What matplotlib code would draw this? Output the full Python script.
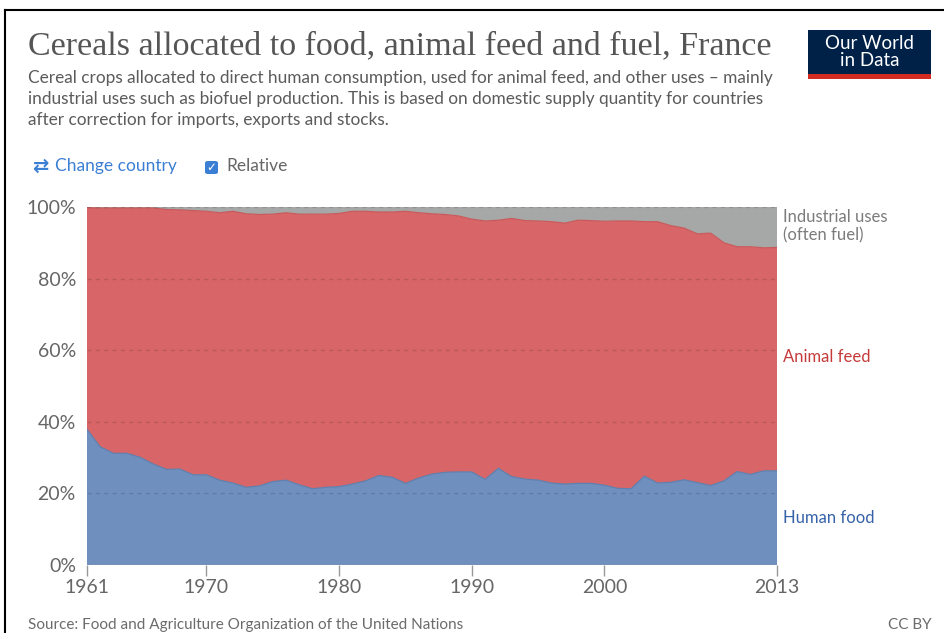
import matplotlib
matplotlib.use("Agg")
import matplotlib.pyplot as plt
from matplotlib.patches import FancyBboxPatch, Rectangle
from matplotlib.lines import Line2D
import numpy as np

years = list(range(1961, 2014))
human_food = [37.9, 33.0, 31.2, 31.2, 30.1, 28.2, 26.7, 26.8, 25.2, 25.2,
              23.7, 22.9, 21.7, 22.1, 23.3, 23.7, 22.4, 21.3, 21.7, 21.9,
              22.6, 23.5, 25.0, 24.5, 22.8, 24.3, 25.4, 25.9, 26.0, 26.0,
              23.9, 27.0, 24.7, 24.0, 23.7, 22.9, 22.6, 22.8, 22.8, 22.3,
              21.4, 21.3, 24.8, 22.9, 23.1, 23.8, 23.0, 22.2, 23.5, 26.1,
              25.3, 26.3, 26.3]
animal_feed = [61.9, 66.7, 68.5, 68.5, 69.6, 71.5, 72.6, 72.4, 73.8, 73.6,
               74.7, 75.9, 76.4, 75.8, 74.7, 74.7, 75.6, 76.7, 76.3, 76.3,
               76.2, 75.3, 73.6, 74.1, 76.0, 74.1, 72.7, 72.0, 71.5, 70.6,
               72.2, 69.3, 72.1, 72.2, 72.4, 73.0, 72.9, 73.5, 73.4, 73.7,
               74.7, 74.8, 71.1, 73.0, 71.7, 70.3, 69.5, 70.5, 66.5, 62.8,
               63.6, 62.3, 62.4]
industrial = [0.2, 0.3, 0.3, 0.3, 0.3, 0.3, 0.7, 0.8, 1.0, 1.2,
              1.6, 1.2, 1.9, 2.1, 2.0, 1.6, 2.0, 2.0, 2.0, 1.8,
              1.2, 1.2, 1.4, 1.4, 1.2, 1.6, 1.9, 2.1, 2.5, 3.4,
              3.9, 3.7, 3.2, 3.8, 3.9, 4.1, 4.5, 3.7, 3.8, 4.0,
              3.9, 3.9, 4.1, 4.1, 5.2, 5.9, 7.5, 7.3, 10.0, 11.1,
              11.1, 11.4, 11.3]
series_names = ["Human food", "Animal feed", "Industrial uses\n(often fuel)"]
x_ticks = [1961, 1970, 1980, 1990, 2000, 2013]
y_ticks = [0, 20, 40, 60, 80, 100]

W, H = 944, 633
fig = plt.figure(figsize=(W / 100, H / 100), dpi=100)
fig.patch.set_facecolor("white")

def fx(px):
    return px / W

def fy(py):
    return 1 - py / H

L, R, T, B = 87, 777, 207, 565
ax = fig.add_axes([fx(L), fy(B), (R - L) / W, (B - T) / H])

c_food = "#6f8fbe"
c_feed = "#d86668"
c_ind = "#a6a8a7"
ax.stackplot(years, human_food, animal_feed, industrial,
             colors=[c_food, c_feed, c_ind], linewidth=0, zorder=1)
cum1 = np.array(human_food)
cum2 = cum1 + np.array(animal_feed)
ax.plot(years, cum1, color="#5f7fae", lw=0.9, zorder=2)
ax.plot(years, cum2, color="#c95a5c", lw=0.9, zorder=2)

ax.set_xlim(years[0], years[-1])
ax.set_ylim(0, 100)
for v in y_ticks[1:]:
    ax.axhline(v, color="#000000", alpha=0.13, lw=1, ls=(0, (3, 3)), zorder=3)
for s in ax.spines.values():
    s.set_visible(False)
ax.set_xticks(x_ticks)
ax.set_xticklabels([str(t) for t in x_ticks])
ax.set_yticks(y_ticks)
ax.set_yticklabels([f"{t}%" for t in y_ticks])
ax.tick_params(axis="x", length=8, width=1, color="#999999", pad=2,
               labelsize=14, labelcolor="#666666")
ax.tick_params(axis="y", length=0, pad=8, labelsize=14, labelcolor="#666666")
for lab in ax.get_xticklabels() + ax.get_yticklabels():
    lab.set_fontfamily("Lato")
ax.axhline(0, color="#999999", lw=1, zorder=4)

# Right-side labels
lab_kw = dict(fontfamily="Lato", fontsize=12, va="center", ha="left")
fig.text(fx(783), fy(226), series_names[2], color="#7b7b7b", linespacing=1.2, **lab_kw)
fig.text(fx(783), fy(357), series_names[1], color="#c53b3b", **lab_kw)
fig.text(fx(783), fy(518), series_names[0], color="#3562a8", **lab_kw)

# Title and subtitle
fig.text(fx(28), fy(46), "Cereals allocated to food, animal feed and fuel, France",
         fontfamily="Liberation Serif", fontsize=24.5, color="#555555", va="center", ha="left")
sub = ("Cereal crops allocated to direct human consumption, used for animal feed, and other uses \u2013 mainly\n"
       "industrial uses such as biofuel production. This is based on domestic supply quantity for countries\n"
       "after correction for imports, exports and stocks.")
fig.text(fx(28), fy(70), sub, fontfamily="Lato", fontsize=12.4, color="#5b5b5b",
         va="top", ha="left", linespacing=1.37)

# Controls
fig.text(fx(32), fy(166), "\u21c4", fontfamily="DejaVu Sans", fontsize=14, color="#3b7fd4",
         va="center", ha="left", fontweight="bold")
fig.text(fx(55), fy(166), "Change country", fontfamily="Lato", fontsize=12.5, color="#3b7fd4",
         va="center", ha="left")
box = FancyBboxPatch((fx(205), fy(174)), 13 / W, 13 / H, boxstyle="round,pad=0,rounding_size=0.003",
                     transform=fig.transFigure, facecolor="#3b7fd4", edgecolor="none")
fig.patches.append(box)
fig.text(fx(211.5), fy(167.5), "\u2713", fontfamily="DejaVu Sans", fontsize=8.5, color="white",
         va="center", ha="center", fontweight="bold")
fig.text(fx(226), fy(166), "Relative", fontfamily="Lato", fontsize=12.5, color="#666666",
         va="center", ha="left")

# Logo
fig.patches.append(Rectangle((fx(808), fy(74)), 123 / W, 44 / H, transform=fig.transFigure,
                             facecolor="#002147", edgecolor="none"))
fig.patches.append(Rectangle((fx(808), fy(79)), 123 / W, 5 / H, transform=fig.transFigure,
                             facecolor="#d42b21", edgecolor="none"))
fig.text(fx(869.5), fy(52), "Our World\nin Data", fontfamily="Lato", fontsize=13.5,
         color="white", va="center", ha="center", linespacing=1.0)

# Footer
fig.text(fx(28), fy(625), "Source: Food and Agriculture Organization of the United Nations",
         fontfamily="Lato", fontsize=11, color="#6b6b6b", va="center", ha="left")
fig.text(fx(932), fy(625), "CC BY", fontfamily="Lato", fontsize=11, color="#6b6b6b",
         va="center", ha="right")

# Screenshot frame
fig.lines.append(Line2D([fx(5), 1], [fy(9.5), fy(9.5)], transform=fig.transFigure,
                        color="black", lw=1.5))
fig.lines.append(Line2D([fx(5), fx(5)], [fy(9.5), 0], transform=fig.transFigure,
                        color="black", lw=1.5))

fig.savefig("out.png", dpi=100, facecolor="white")
